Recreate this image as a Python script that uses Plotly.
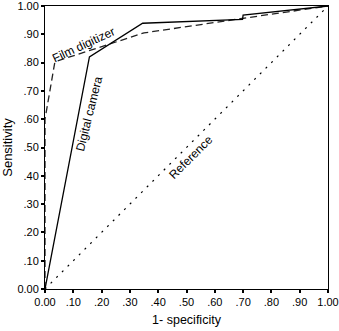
import plotly.graph_objects as go

# Data
digital_fpr = [0.0, 0.157, 0.345, 0.698, 0.700, 1.0]
digital_tpr = [0.0, 0.820, 0.939, 0.953, 0.968, 1.0]
film_fpr = [0.0, 0.0, 0.035, 0.350, 0.690, 1.0]
film_tpr = [0.0, 0.600, 0.803, 0.905, 0.955, 1.0]
ref_x = [0.0, 1.0]
ref_y = [0.0, 1.0]
tick_vals = [0.0, 0.1, 0.2, 0.3, 0.4, 0.5, 0.6, 0.7, 0.8, 0.9, 1.0]
tick_text = ["0.00", ".10", ".20", ".30", ".40", ".50", ".60", ".70", ".80", ".90", "1.00"]

FONT = "Arial, Liberation Sans, sans-serif"

fig = go.Figure()
fig.add_trace(go.Scatter(x=ref_x, y=ref_y, mode="lines",
                         line=dict(color="black", width=1.2, dash="2px,6px"),
                         showlegend=False, hoverinfo="skip"))
fig.add_trace(go.Scatter(x=film_fpr, y=film_tpr, mode="lines",
                         line=dict(color="#222", width=1.3, dash="7px,4px"),
                         showlegend=False, cliponaxis=False))
fig.add_trace(go.Scatter(x=digital_fpr, y=digital_tpr, mode="lines",
                         line=dict(color="black", width=1.3),
                         showlegend=False, cliponaxis=False))

axis_common = dict(
    range=[0, 1], tickvals=tick_vals, ticktext=tick_text, automargin=False,
    ticklabeloverflow="allow",
    showgrid=False, zeroline=False, showline=True, linecolor="black",
    linewidth=1, mirror=True, ticks="outside", ticklen=3, tickwidth=2,
    tickcolor="black", tickfont=dict(family=FONT, size=11, color="black"),
)

fig.update_layout(
    width=339, height=331,
    margin=dict(l=45, r=11, t=6, b=42),
    paper_bgcolor="white", plot_bgcolor="white",
    xaxis=dict(**axis_common,
               title=dict(text="1- specificity", font=dict(family=FONT, size=12.5, color="black"),
                          standoff=8)),
    yaxis=dict(**axis_common,
               title=dict(text="Sensitivity", font=dict(family=FONT, size=13, color="black"),
                          standoff=4)),
    annotations=[
        dict(x=0.135, y=0.862, text="Film digitizer", showarrow=False, textangle=-25,
             font=dict(family=FONT, size=12, color="black")),
        dict(x=0.156, y=0.618, text="Digital camera", showarrow=False, textangle=-76,
             font=dict(family=FONT, size=12, color="black")),
        dict(x=0.516, y=0.466, text="Reference", showarrow=False, textangle=-45,
             font=dict(family=FONT, size=12, color="black")),
    ],
)

fig.write_html("out.html", config={"displayModeBar": False},
               post_script="document.body.style.margin='0';document.body.style.overflow='hidden';")
